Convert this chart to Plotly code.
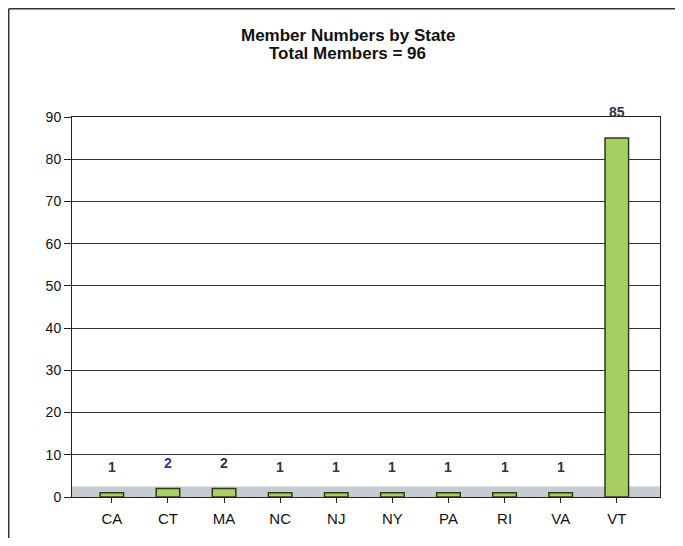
import plotly.graph_objects as go

states = ["CA", "CT", "MA", "NC", "NJ", "NY", "PA", "RI", "VA", "VT"]
members = [1, 2, 2, 1, 1, 1, 1, 1, 1, 85]
label_colors = ["#2f3640", "#2e3a86", "#2f3640", "#2f3640", "#2f3640",
                "#2f3640", "#2f3640", "#2f3640", "#2f3640", "#2f3640"]
y_ticks = [0, 10, 20, 30, 40, 50, 60, 70, 80, 90]
title_lines = ["Member Numbers by State", "Total Members = 96"]

fig = go.Figure()
fig.add_trace(go.Bar(
    x=states, y=members, width=0.42,
    marker=dict(color="#a8cf62", line=dict(color="#2c3a22", width=1.5)),
    hoverinfo="x+y", showlegend=False,
))

annotations = []
for s, v, c in zip(states, members, label_colors):
    annotations.append(dict(
        x=s, y=v, xref="x", yref="y", text="<b>%d</b>" % v, yanchor="middle",
        yshift=26, showarrow=False,
        font=dict(family="Liberation Sans", size=14, color=c),
    ))
for i, t in enumerate(title_lines):
    annotations.append(dict(
        x=0.469, y=1.245 - 0.0474 * i, xref="paper", yref="paper",
        text="<b>%s</b>" % t, showarrow=False,
        font=dict(family="Liberation Sans", size=17, color="#111111"),
    ))

fig.update_layout(
    width=675, height=530,
    margin=dict(l=64, r=23, t=109, b=41),
    paper_bgcolor="white", plot_bgcolor="white",
    annotations=annotations,
    xaxis=dict(
        range=[-0.71, 9.77], showgrid=False, showline=True, linecolor="#222222",
        linewidth=1, mirror=True, ticks="outside", ticklen=5, tickcolor="#222222",
        tickfont=dict(family="Liberation Sans", size=15, color="#111111"),
        ticklabelstandoff=3, fixedrange=True,
    ),
    yaxis=dict(
        range=[0, 90], tickvals=y_ticks, showgrid=True, gridcolor="#333333",
        gridwidth=1, showline=True, linecolor="#222222", linewidth=1, mirror=True,
        ticks="outside", ticklen=7, tickcolor="#222222",
        tickfont=dict(family="Liberation Sans", size=14, color="#111111"),
        zeroline=False, fixedrange=True,
    ),
    shapes=[
        dict(type="line", xref="paper", yref="paper",
             x0=-0.1076, x1=-0.1076, y0=-0.108, y1=1.2849,
             line=dict(color="#333333", width=1.5), layer="below"),
        dict(type="line", xref="paper", yref="paper",
             x0=-0.1076, x1=1.039, y0=1.2849, y1=1.2849,
             line=dict(color="#333333", width=1.5), layer="below"),
        dict(type="rect", xref="paper", yref="y", x0=0, x1=1, y0=0, y1=2.5,
             fillcolor="#c8ccd0", line=dict(width=0), layer="below"),
    ],
)

fig.write_html("out.html")
